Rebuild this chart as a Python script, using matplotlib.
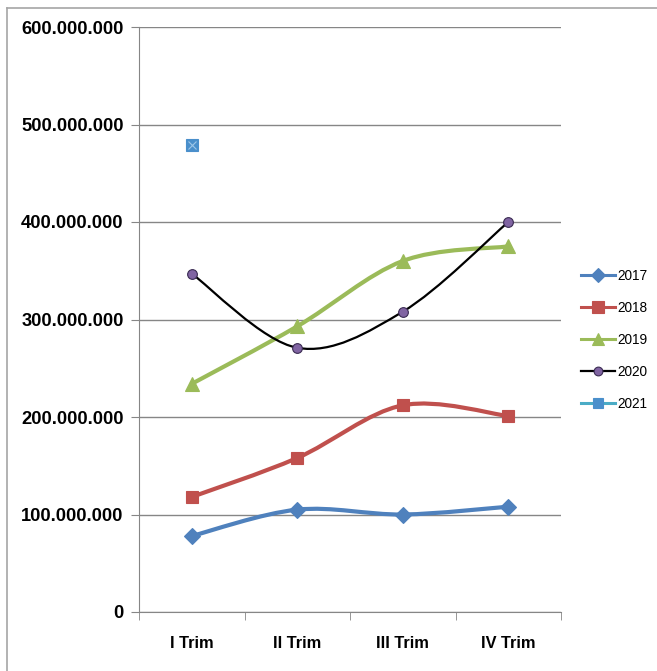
import matplotlib
matplotlib.use('Agg')
import matplotlib.pyplot as plt
from matplotlib.path import Path
from matplotlib.patches import PathPatch
from matplotlib.lines import Line2D
from matplotlib.ticker import FuncFormatter, MultipleLocator

plt.rcParams['font.family'] = ['Liberation Sans', 'DejaVu Sans']

# Data (values in euro)
quarters = ['I Trim', 'II Trim', 'III Trim', 'IV Trim']
v2017 = [78e6, 105e6, 100e6, 108e6]
v2018 = [118e6, 158e6, 212e6, 201e6]
v2019 = [234e6, 293e6, 360e6, 375e6]
v2020 = [347e6, 271e6, 308e6, 400e6]
v2021 = [479e6]

series = [
    # label, values, line colour, line width, marker, marker face, marker edge, marker size
    ('2017', v2017, '#4F81BD', 3.0, 'D', '#4F81BD', '#4F81BD', 8),
    ('2018', v2018, '#C0504D', 3.0, 's', '#C0504D', '#C0504D', 9),
    ('2019', v2019, '#9BBB59', 3.0, '^', '#9BBB59', '#9BBB59', 10),
    ('2020', v2020, '#000000', 1.6, 'o', '#8064A2', '#3A2B52', 7),
    ('2021', v2021, '#4BACC6', 3.0, 's', '#4A8FCB', '#4A8FCB', 8),
]


def smooth_path(xs, ys, t=1.0 / 6):
    """Excel-like smoothed line as cubic bezier segments."""
    pts = list(zip(xs, ys))
    n = len(pts)
    verts = [pts[0]]
    codes = [Path.MOVETO]
    for i in range(n - 1):
        p0 = pts[max(i - 1, 0)]
        p1 = pts[i]
        p2 = pts[i + 1]
        p3 = pts[min(i + 2, n - 1)]
        c1 = (p1[0] + (p2[0] - p0[0]) * t, p1[1] + (p2[1] - p0[1]) * t)
        c2 = (p2[0] - (p3[0] - p1[0]) * t, p2[1] - (p3[1] - p1[1]) * t)
        verts += [c1, c2, p2]
        codes += [Path.CURVE4] * 3
    return Path(verts, codes)


fig = plt.figure(figsize=(6.57, 6.71), dpi=100)
# chart area border (only top and left edges are inside the picture)
fig.lines.append(Line2D([7 / 657, 1.0], [1 - 8 / 671, 1 - 8 / 671], transform=fig.transFigure,
                        color='#A6A6A6', linewidth=1.2))
fig.lines.append(Line2D([7 / 657, 7 / 657], [0.0, 1 - 8 / 671], transform=fig.transFigure,
                        color='#A6A6A6', linewidth=1.2))

ax = fig.add_axes([139 / 657, 1 - 612 / 671, (561 - 139) / 657, (612 - 27) / 671])

xpos = list(range(len(quarters)))
handles = []
for label, vals, lc, lw, mk, mf, me, ms in series:
    xs = xpos[:len(vals)]
    if len(vals) > 1:
        ax.add_patch(PathPatch(smooth_path(xs, vals), facecolor='none',
                               edgecolor=lc, linewidth=lw, zorder=3,
                               capstyle='round', joinstyle='round'))
    ax.plot(xs, vals, linestyle='none', marker=mk, markersize=ms,
            markerfacecolor=mf, markeredgecolor=me, markeredgewidth=0.8, zorder=4)
    if label == '2021':
        ax.plot(xs, vals, linestyle='none', marker='x', markersize=6,
                markeredgecolor='#9DC6E8', markeredgewidth=0.8, zorder=5)
    handles.append(Line2D([0], [0], color=lc, linewidth=2.2 if lw > 2 else 1.6,
                          marker=mk, markersize=ms * 0.9, markerfacecolor=mf,
                          markeredgecolor=me, markeredgewidth=0.8))

ax.set_xlim(-0.5, 3.5)
ax.set_ylim(0, 600e6)
ax.yaxis.set_major_locator(MultipleLocator(100e6))
ax.yaxis.set_major_formatter(FuncFormatter(lambda v, p: f"{v:,.0f}".replace(',', '.')))
ax.set_xticks(xpos)
ax.set_xticklabels(quarters)
ax.set_xticks([-0.5, 0.5, 1.5, 2.5, 3.5], minor=True)
ax.tick_params(axis='x', which='major', length=0, pad=17, labelsize=11.8)
ax.tick_params(axis='x', which='minor', length=6, direction='out', color='#868686')
ax.tick_params(axis='y', length=6, direction='out', color='#868686', pad=5, labelsize=13.2)
for lbl in ax.get_xticklabels() + ax.get_yticklabels():
    lbl.set_fontweight('bold')

ax.grid(axis='y', color='#868686', linewidth=1.0)
ax.set_axisbelow(True)
for side in ['top', 'right']:
    ax.spines[side].set_visible(False)
ax.spines['left'].set_color('#868686')
ax.spines['bottom'].set_color('#868686')

fig.legend(handles, [s[0] for s in series], loc='center left',
           bbox_to_anchor=(581 / 657, 1 - 340 / 671), frameon=False,
           fontsize=9.8, handlelength=2.5, handletextpad=0.2,
           labelspacing=1.33, borderpad=0, borderaxespad=0)

plt.savefig('out.png', dpi=100)
plt.close()
